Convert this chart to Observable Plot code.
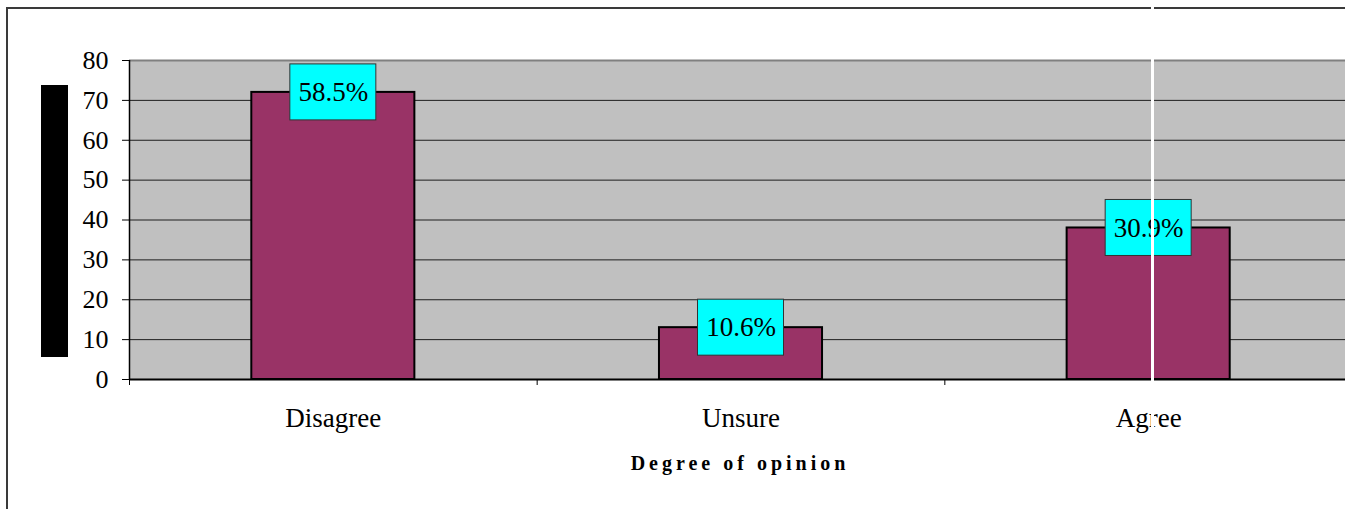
<!DOCTYPE html>
<html>
<head>
<meta charset="utf-8">
<script src="https://cdn.jsdelivr.net/npm/d3@7"></script>
<script src="https://cdn.jsdelivr.net/npm/@observablehq/plot@0.6"></script>
<style>
  html, body { margin: 0; padding: 0; background: #fff; overflow: hidden; }
  #wrap { position: relative; width: 1345px; height: 509px; overflow: hidden; background: #fff; }
  #chart { position: absolute; left: 0; top: 0; width: 1360px; }
  #chart svg { max-width: none !important; }
  #outer { position: absolute; left: 6px; top: 7px; width: 1400px; height: 600px;
           border-left: 2px solid #3a3a3a; border-top: 2px solid #3a3a3a; }
  #ylab { position: absolute; left: 41px; top: 85px; width: 27px; height: 272px; background: #000; }
  #scan { position: absolute; left: 1151px; top: 0; width: 3px; height: 432px; background: #fff; }
</style>
</head>
<body>
<div id="wrap">
  <div id="outer"></div>
  <div id="chart"></div>
  <div id="ylab"></div>
  <div id="scan"></div>
</div>
<script>
const categories = ["Disagree", "Unsure", "Agree"];
const counts = [72, 13, 38];
const yTicks = [0, 10, 20, 30, 40, 50, 60, 70, 80];
const gridValues = [10, 20, 30, 40, 50, 60, 70];
const xTitle = "Degree of opinion";

const total = d3.sum(counts);
const data = categories.map((c, i) => ({ c, i, v: counts[i], pct: d3.format(".1%")(counts[i] / total) }));

const chart = Plot.plot({
  width: 1360,
  height: 509,
  marginLeft: 129,
  marginRight: 8,
  marginTop: 60,
  marginBottom: 130,
  x: { domain: [0, categories.length] },
  y: { domain: [0, 80] },
  style: { fontFamily: "'Liberation Serif', 'Times New Roman', serif", fontSize: "26px", color: "#000", background: "transparent", maxWidth: "none" },
  marks: [
    Plot.frame({ fill: "#c0c0c0", stroke: null }),
    Plot.ruleY(gridValues, { stroke: "#1e1e1e", strokeWidth: 1 }),
    Plot.ruleY([80], { stroke: "#808080", strokeWidth: 2 }),
    Plot.rectY(data, { x1: d => d.i + 0.3, x2: d => d.i + 0.7, y: "v", fill: "#993366", stroke: "#000", strokeWidth: 2 }),
    Plot.ruleY([0], { stroke: "#000", strokeWidth: 2 }),
    Plot.ruleX([0], { y1: 0, y2: 80, stroke: "#000", strokeWidth: 1.5 }),
    Plot.axisY({ ticks: yTicks, tickSize: 7, tickPadding: 14, label: null, fontSize: 26 }),
    Plot.axisX({ ticks: [0, 1, 2, 3], tickSize: 6, tickFormat: () => "", label: null }),
    Plot.axisX({ ticks: categories.map((c, i) => i + 0.5), tickSize: 0, tickPadding: 28,
                 tickFormat: d => categories[Math.floor(d)], label: null, fontSize: 27 }),
    Plot.rect(data, { x1: d => d.i + 0.5, x2: d => d.i + 0.5, y1: "v", y2: "v",
                      insetLeft: -43, insetRight: -43, insetTop: -28, insetBottom: -28,
                      fill: "#00ffff", stroke: "#333", strokeWidth: 1 }),
    Plot.text(data, { x: d => d.i + 0.5, y: "v", text: "pct", fontSize: 27, fill: "#000" }),
    Plot.text([xTitle], { frameAnchor: "bottom", dy: 90, dx: -1, fontSize: 20, fontWeight: "bold", fill: "#000" })
  ]
});
d3.select(chart).selectAll("text").filter(function () { return this.textContent === xTitle; })
  .style("letter-spacing", "4px");
document.getElementById("chart").appendChild(chart);
</script>
</body>
</html>
